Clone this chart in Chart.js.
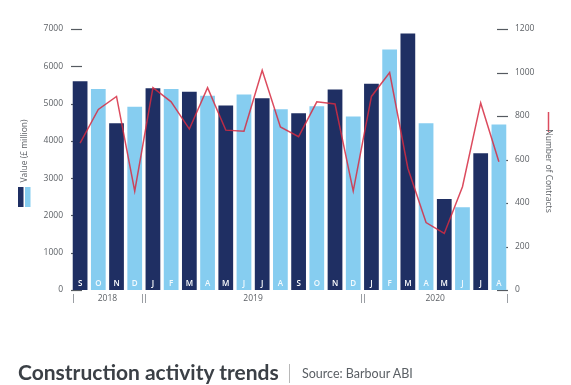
<!DOCTYPE html>
<html>
<head>
<meta charset="utf-8">
<script src="https://cdn.jsdelivr.net/npm/chart.js@4/dist/chart.umd.min.js"></script>
<style>
  html, body { margin: 0; padding: 0; background: #ffffff; }
  #wrap { position: relative; width: 571px; height: 385px; overflow: hidden; }
  #c { position: absolute; left: 0; top: 0; }
  #title { position: absolute; left: 18px; top: 359px; font-family: Lato, "Open Sans", sans-serif;
           font-weight: 700; font-size: 21px; color: #3b4046; white-space: nowrap; letter-spacing: 0px; }
  #sep { position: absolute; left: 289px; top: 364px; width: 1px; height: 19px; background: #b8b8b8; }
  #src { position: absolute; left: 302px; top: 366px; font-family: Lato, "Open Sans", sans-serif;
         font-size: 12.5px; color: #5a5f64; white-space: nowrap; }
</style>
</head>
<body>
<div id="wrap">
  <canvas id="c" width="571" height="385"></canvas>
  <div id="title">Construction activity trends</div>
  <div id="sep"></div>
  <div id="src">Source: Barbour ABI</div>
</div>
<script>
// ---- data ----
const months = ['S','O','N','D','J','F','M','A','M','J','J','A','S','O','N','D','J','F','M','A','M','J','J','A'];
const valueMillion = [5600,5390,4470,4915,5410,5390,5320,5210,4950,5240,5140,4845,4740,4925,5380,4650,5530,6450,6880,4470,2440,2220,3665,4440];
const contracts = [675,830,890,455,930,865,740,930,735,730,1010,750,705,865,855,455,890,1000,560,310,260,475,860,590];
const years = ['2018','2019','2020'];
const yearStart = [0,4,16];
const yearEnd = [3,15,23];
const leftTicks = [0,1000,2000,3000,4000,5000,6000,7000];
const rightTicks = [0,200,400,600,800,1000,1200];
const leftAxisTitle = 'Value (£ million)';
const rightAxisTitle = 'Number of Contracts';

const DARK = '#1f2f63';
const LIGHT = '#86cdf0';
const RED = 'rgba(214,44,66,0.85)';
const AXIS_TXT = '#5d6166';
const FONT = '"Open Sans", Lato, sans-serif';

const barColors = valueMillion.map((v, i) => i % 2 === 0 ? DARK : LIGHT);

const decor = {
  id: 'decor',
  beforeDatasetsDraw(chart) {
    const ctx = chart.ctx;
    const ca = chart.chartArea;
    const yl = chart.scales.y, yr = chart.scales.y1;
    ctx.save();
    ctx.strokeStyle = '#555a60';
    ctx.lineWidth = 1.2;
    leftTicks.forEach(t => {
      const y = Math.round(yl.getPixelForValue(t)) + 0.5;
      ctx.beginPath(); ctx.moveTo(ca.left, y); ctx.lineTo(ca.left + 11, y); ctx.stroke();
    });
    rightTicks.forEach(t => {
      const y = Math.round(yr.getPixelForValue(t)) + 0.5;
      ctx.beginPath(); ctx.moveTo(ca.right - 11, y); ctx.lineTo(ca.right, y); ctx.stroke();
    });
    ctx.restore();
  },
  afterDatasetsDraw(chart) {
    const ctx = chart.ctx;
    const ca = chart.chartArea;
    const x = chart.scales.x;
    const meta = chart.getDatasetMeta(0);
    ctx.save();
    ctx.font = '600 8px ' + FONT;
    ctx.textAlign = 'center';
    ctx.textBaseline = 'middle';
    months.forEach((m, i) => {
      const bar = meta.data[i];
      ctx.fillStyle = i % 2 === 0 ? '#ffffff' : 'rgba(255,255,255,0.9)';
      ctx.fillText(m, bar.x, ca.bottom - 6);
    });
    const step = x.getPixelForValue(1) - x.getPixelForValue(0);
    ctx.font = '8.5px ' + FONT;
    ctx.fillStyle = AXIS_TXT;
    years.forEach((yr, k) => {
      const cx = (x.getPixelForValue(yearStart[k]) + x.getPixelForValue(yearEnd[k])) / 2;
      ctx.fillText(yr, cx, ca.bottom + 9);
    });
    ctx.strokeStyle = '#9a9ea3';
    ctx.lineWidth = 1;
    const sepTop = ca.bottom + 4, sepBot = ca.bottom + 13;
    const vline = (px) => { const xx = Math.round(px) + 0.5; ctx.beginPath(); ctx.moveTo(xx, sepTop); ctx.lineTo(xx, sepBot); ctx.stroke(); };
    vline(x.getPixelForValue(yearStart[0]) - step / 2 + 1.5);
    for (let k = 1; k < years.length; k++) {
      const b = (x.getPixelForValue(yearEnd[k - 1]) + x.getPixelForValue(yearStart[k])) / 2;
      vline(b - 1.5); vline(b + 1.5);
    }
    vline(x.getPixelForValue(yearEnd[years.length - 1]) + step / 2 - 1.5);

    ctx.save();
    ctx.translate(25, 151);
    ctx.rotate(-Math.PI / 2);
    ctx.font = '8.5px ' + FONT;
    ctx.fillStyle = AXIS_TXT;
    ctx.textAlign = 'center';
    ctx.textBaseline = 'middle';
    ctx.fillText(leftAxisTitle, 0, 0);
    ctx.restore();
    ctx.fillStyle = DARK; ctx.fillRect(18, 187, 5.5, 20);
    ctx.fillStyle = LIGHT; ctx.fillRect(25, 187, 5.5, 20);

    ctx.strokeStyle = RED; ctx.lineWidth = 1.5;
    ctx.beginPath(); ctx.moveTo(548.5, 112); ctx.lineTo(548.5, 132); ctx.stroke();
    ctx.save();
    ctx.translate(548, 171);
    ctx.rotate(Math.PI / 2);
    ctx.font = '8.5px ' + FONT;
    ctx.fillStyle = AXIS_TXT;
    ctx.textAlign = 'center';
    ctx.textBaseline = 'middle';
    ctx.fillText(rightAxisTitle, 0, 0);
    ctx.restore();
    ctx.restore();
  }
};

new Chart(document.getElementById('c'), {
  data: {
    labels: months,
    datasets: [
      {
        type: 'bar',
        data: valueMillion,
        backgroundColor: barColors,
        borderWidth: 0,
        yAxisID: 'y',
        categoryPercentage: 1.0,
        barPercentage: 0.81,
        order: 2
      },
      {
        type: 'line',
        data: contracts,
        borderColor: RED,
        borderWidth: 1.5,
        pointRadius: 0,
        tension: 0,
        fill: false,
        yAxisID: 'y1',
        order: 1
      }
    ]
  },
  options: {
    responsive: false,
    animation: false,
    devicePixelRatio: 1,
    layout: { padding: { top: 29, bottom: 95, left: 0, right: 0 } },
    plugins: { legend: { display: false }, tooltip: { enabled: false }, title: { display: false } },
    scales: {
      x: { display: false, offset: true },
      y: {
        position: 'left', min: 0, max: 7000,
        afterFit(s) { s.width = 71; },
        afterBuildTicks(s) { s.ticks = leftTicks.map(v => ({ value: v })); },
        grid: { display: false, drawTicks: false },
        border: { display: false },
        ticks: { padding: 8, color: AXIS_TXT, font: { family: FONT, size: 8.5 }, callback: v => String(v) }
      },
      y1: {
        position: 'right', min: 0, max: 1200,
        afterFit(s) { s.width = 63; },
        afterBuildTicks(s) { s.ticks = rightTicks.map(v => ({ value: v })); },
        grid: { display: false, drawTicks: false },
        border: { display: false },
        ticks: { padding: 7, color: AXIS_TXT, font: { family: FONT, size: 8.5 }, callback: v => String(v) }
      }
    }
  },
  plugins: [decor]
});
</script>
</body>
</html>
